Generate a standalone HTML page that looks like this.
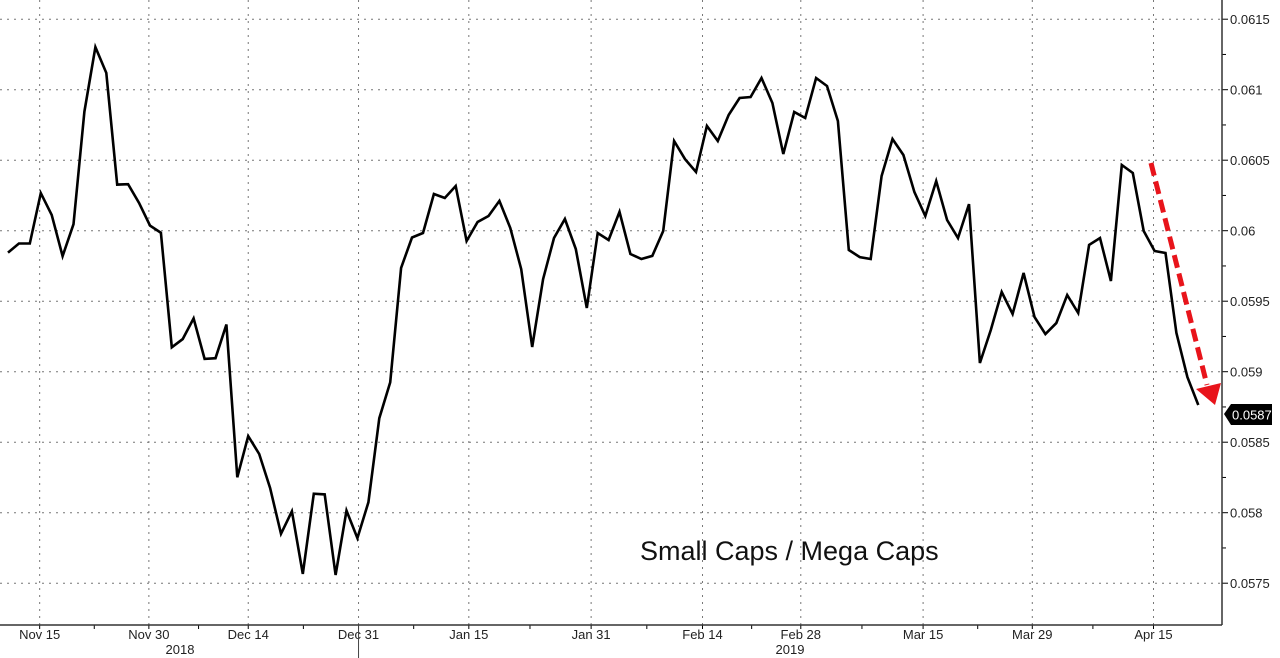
<!DOCTYPE html>
<html><head><meta charset="utf-8"><style>
html,body{margin:0;padding:0;background:#fff;}
svg{display:block;font-family:"Liberation Sans",sans-serif;}
</style></head><body>
<svg id="chart" width="1280" height="658" viewBox="0 0 1280 658"></svg>
<script>
const values = [0.059845,0.059909,0.059909,0.060267,0.060112,0.059820,0.060046,0.060845,0.061302,0.061119,
0.060327,0.060330,0.060198,0.060036,0.059985,0.059173,0.059231,0.059378,0.059091,0.059096,
0.059335,0.058251,0.058543,0.058416,0.058175,0.057850,0.058010,0.057566,0.058135,0.058130,
0.057558,0.058015,0.057820,0.058074,0.058670,0.058924,0.059736,0.059952,
0.059984,0.060260,0.060232,0.060317,0.059927,0.060062,0.060104,0.060211,0.060019,0.059728,
0.059175,0.059657,0.059948,0.060083,0.059870,0.059452,0.059984,0.059934,0.060133,0.059835,
0.059799,0.059821,0.059998,0.060636,0.060508,0.060416,0.060743,0.060636,0.060821,0.060941,
0.060948,0.061083,0.060906,0.060544,0.060842,0.060799,0.061083,0.061026,
0.060778,0.059863,0.059813,0.059799,0.060388,0.060650,0.060537,0.060274,0.060104,0.060352,
0.060076,0.059948,0.060189,0.059062,0.059296,0.059565,0.059409,0.059700,0.059388,0.059267,
0.059345,0.059544,0.059416,0.059899,0.059948,0.059643,0.060466,0.060409,0.059998,0.059856,
0.059842,0.059275,0.058962,0.058764];
const dateLabels = ["Nov 15","Nov 30","Dec 14","Dec 31","Jan 15","Jan 31","Feb 14","Feb 28","Mar 15","Mar 29","Apr 15"];
const dateIndex = [2.9,12.9,22,32.1,42.2,53.4,63.6,72.6,83.8,93.8,104.9];
const yTicks = [0.0575,0.058,0.0585,0.059,0.0595,0.06,0.0605,0.061,0.0615];
const yTickLabels = ["0.0575","0.058","0.0585","0.059","0.0595","0.06","0.0605","0.061","0.0615"];
const lastLabel = "0.0587";

const NS="http://www.w3.org/2000/svg";
const svg=document.getElementById('chart');
const AX=1222, AY=625;
function x(i){return 8+i*10.92;}
function y(v){return 230.7-(v-0.06)/0.0005*70.5;}
function mk(t,a,parent){const e=document.createElementNS(NS,t);for(const k in a)e.setAttribute(k,a[k]);(parent||svg).appendChild(e);return e;}

yTicks.forEach((v,k)=>{
  const g=mk('line',{x1:0,x2:AX,y1:y(v),y2:y(v),stroke:'#777','stroke-width':1,'stroke-dasharray':'2,5'});
  
  
  const t=mk('line',{x1:AX,x2:AX+6,y1:y(v),y2:y(v),stroke:'#000','stroke-width':1});
  
  
  const m=mk('line',{x1:AX,x2:AX+4,y1:y(v+0.00025),y2:y(v+0.00025),stroke:'#000','stroke-width':1});
  
  
  const l=mk('text',{x:AX+8,y:y(v)+5,'font-size':13,fill:'#222'});
  l.textContent=yTickLabels[k];
  
  
});
dateIndex.forEach((d,k)=>{
  const gx=x(d);
  const g=mk('line',{x1:gx,x2:gx,y1:0,y2:AY,stroke:'#777','stroke-width':1,'stroke-dasharray':'2,5'});
  
  
  const t=mk('line',{x1:gx,x2:gx,y1:AY,y2:AY+4,stroke:'#000'});
  
  
  const l=mk('text',{x:gx,y:AY+14,'font-size':13,fill:'#222','text-anchor':'middle'});
  l.textContent=dateLabels[k];
  
  
  if(k<dateIndex.length-1){
    const mx=x((d+dateIndex[k+1])/2);
    const m=mk('line',{x1:mx,x2:mx,y1:AY,y2:AY+4,stroke:'#000'});
    
    
  }
});
</script>
<script>
const xa=mk('line',{x1:0,x2:AX,y1:AY,y2:AY,stroke:'#333','stroke-width':1.5});


const ya=mk('line',{x1:AX,x2:AX,y1:0,y2:AY,stroke:'#333','stroke-width':1.5});


const ys=mk('line',{x1:x(dateIndex[3]),x2:x(dateIndex[3]),y1:AY,y2:658,stroke:'#444','stroke-width':1});


[["2018",180],["2019",790]].forEach(p=>{
  const t=mk('text',{x:p[1],y:654,'font-size':13,fill:'#222','text-anchor':'middle'});
  t.textContent=p[0];
  
  
});
const pts=values.map((v,i)=>x(i).toFixed(1)+','+y(v).toFixed(1)).join(' ');
const pl=mk('polyline',{points:pts,fill:'none',stroke:'#000','stroke-width':2.6,'stroke-linejoin':'miter'});


const ly=y(0.0587);
const bx=mk('path',{d:`M${AX+2},${ly} L${AX+9},${ly-10} L${AX+50},${ly-10} L${AX+50},${ly+11} L${AX+9},${ly+11} Z`,fill:'#000'});


const lt=mk('text',{x:AX+10,y:ly+5.5,'font-size':13,fill:'#fff'});
lt.textContent=lastLabel;


const ar=mk('line',{x1:1151,y1:163,x2:1207,y2:385,stroke:'#e8141b','stroke-width':5,'stroke-dasharray':'13,6'});


const ah=mk('polygon',{points:'1196,389 1221,383 1215,405',fill:'#e8141b'});


const an=mk('text',{x:640,y:560,'font-size':27,fill:'#111'});
an.textContent='Small Caps / Mega Caps';


</script>
</body></html>
